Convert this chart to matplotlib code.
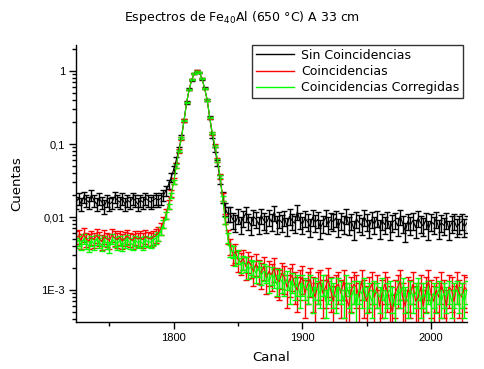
import numpy as np
import matplotlib
matplotlib.use("Agg")
import matplotlib.pyplot as plt
from matplotlib.ticker import FixedLocator, FixedFormatter, LogLocator, NullFormatter, MultipleLocator

plt.rcParams['font.family'] = ['Liberation Sans', 'DejaVu Sans']
plt.rcParams['mathtext.default'] = 'regular'

# channels (every 2nd channel)
canal = np.arange(1724, 2029, 2)

# --- Sin Coincidencias (black) ---
sin_a = [0.016, 0.018, 0.015, 0.019, 0.017, 0.016, 0.020, 0.017, 0.015, 0.018,
         0.016, 0.014, 0.017, 0.015, 0.016, 0.019, 0.017, 0.016, 0.018, 0.015,
         0.017, 0.016, 0.018, 0.017, 0.015, 0.017, 0.016, 0.018, 0.017, 0.016,
         0.017, 0.018]
sin_b = [0.017, 0.018, 0.020, 0.023, 0.028, 0.035, 0.045, 0.060, 0.085, 0.125,
         0.21, 0.37, 0.56, 0.76, 0.93, 1.0, 0.95, 0.78, 0.58, 0.40,
         0.23, 0.13, 0.085, 0.055, 0.033, 0.019, 0.013, 0.011]
sin_c = [0.0110, 0.0092, 0.0085, 0.0104, 0.0080, 0.0097, 0.0112, 0.0088, 0.0078, 0.0101,
         0.0094, 0.0079, 0.0106, 0.0090, 0.0083, 0.0099, 0.0086, 0.0115, 0.0081, 0.0093,
         0.0084, 0.0098, 0.0076, 0.0103, 0.0089, 0.0082, 0.0118, 0.0091, 0.0080, 0.0096,
         0.0087, 0.0074, 0.0100, 0.0085, 0.0093, 0.0071, 0.0083, 0.0099, 0.0079, 0.0092,
         0.0086, 0.0097, 0.0073, 0.0090, 0.0081, 0.0104, 0.0078, 0.0088, 0.0069, 0.0095,
         0.0084, 0.0077, 0.0099, 0.0087, 0.0072, 0.0093, 0.0080, 0.0096, 0.0070, 0.0089,
         0.0079, 0.0094, 0.0068, 0.0085, 0.0091, 0.0076, 0.0101, 0.0082, 0.0064, 0.0088,
         0.0078, 0.0090, 0.0072, 0.0097, 0.0083, 0.0075, 0.0092, 0.0069, 0.0087, 0.0080,
         0.0094, 0.0071, 0.0084, 0.0077, 0.0091, 0.0068, 0.0082, 0.0089, 0.0073, 0.0081,
         0.0088, 0.0074, 0.0083]
sin_coinc = np.array(sin_a + sin_b + sin_c)

# --- Coincidencias (red) ---
coi_a = [0.0052, 0.0055, 0.0048, 0.0058, 0.0050, 0.0047, 0.0053, 0.0049, 0.0056, 0.0051,
         0.0046, 0.0054, 0.0050, 0.0048, 0.0057, 0.0052, 0.0049, 0.0053, 0.0047, 0.0051,
         0.0055, 0.0050, 0.0048, 0.0053, 0.0050, 0.0052, 0.0049, 0.0054, 0.0051, 0.0050,
         0.0053, 0.0056]
coi_b = [0.0060, 0.0070, 0.0085, 0.011, 0.015, 0.021, 0.031, 0.051, 0.081, 0.12,
         0.21, 0.37, 0.56, 0.76, 0.93, 1.0, 0.95, 0.78, 0.58, 0.40,
         0.23, 0.14, 0.095, 0.060, 0.036, 0.019, 0.0095, 0.0055]
coi_c = [0.0040, 0.0031, 0.0033, 0.0026, 0.0024, 0.0027, 0.0021, 0.0025, 0.0022, 0.0018,
         0.0023, 0.0019, 0.0017, 0.0021, 0.0015, 0.0018, 0.0016, 0.0020, 0.0014, 0.0013,
         0.0017, 0.0015, 0.0011, 0.0014, 0.0016, 0.0012, 0.0010, 0.0013, 0.0015, 0.0009,
         0.0012, 0.0014, 0.0010, 0.0008, 0.0012, 0.0013, 0.0009, 0.0011, 0.0014, 0.0010,
         0.0007, 0.0011, 0.0012, 0.0009, 0.0013, 0.0008, 0.0006, 0.0010, 0.0012, 0.0011,
         0.0008, 0.0013, 0.0009, 0.0007, 0.0010, 0.0012, 0.0008, 0.0011, 0.0006, 0.0009,
         0.0012, 0.0010, 0.0007, 0.0005, 0.0009, 0.0011, 0.0013, 0.0008, 0.0006, 0.0010,
         0.0009, 0.0012, 0.0007, 0.0008, 0.0011, 0.0006, 0.0010, 0.0013, 0.0009, 0.0007,
         0.0010, 0.0008, 0.0012, 0.0009, 0.0006, 0.0011, 0.0010, 0.0007, 0.0012, 0.0009,
         0.0008, 0.0011, 0.0010]
coinc = np.array(coi_a + coi_b + coi_c)

# --- Coincidencias Corregidas (green) ---
cor_a = [0.0045, 0.0048, 0.0042, 0.0050, 0.0044, 0.0040, 0.0047, 0.0043, 0.0049, 0.0045,
         0.0041, 0.0047, 0.0044, 0.0039, 0.0050, 0.0046, 0.0043, 0.0047, 0.0041, 0.0045,
         0.0049, 0.0044, 0.0042, 0.0047, 0.0045, 0.0046, 0.0043, 0.0048, 0.0046, 0.0045,
         0.0048, 0.0051]
cor_b = [0.0055, 0.0065, 0.0080, 0.0105, 0.014, 0.020, 0.030, 0.050, 0.080, 0.12,
         0.21, 0.37, 0.56, 0.76, 0.93, 1.0, 0.95, 0.78, 0.58, 0.40,
         0.23, 0.14, 0.095, 0.060, 0.036, 0.018, 0.0090, 0.0052]
cor_c = [0.0035, 0.0034, 0.0027, 0.0029, 0.0022, 0.0024, 0.0023, 0.0019, 0.0021, 0.0020,
         0.0017, 0.0020, 0.0016, 0.0018, 0.0017, 0.0013, 0.0016, 0.0015, 0.0012, 0.0015,
         0.0013, 0.0012, 0.0014, 0.0010, 0.0013, 0.0011, 0.0012, 0.0009, 0.0012, 0.0011,
         0.0010, 0.0012, 0.0008, 0.0011, 0.0010, 0.0009, 0.0012, 0.0007, 0.0010, 0.0011,
         0.0009, 0.0008, 0.0011, 0.0010, 0.0007, 0.0012, 0.0009, 0.0008, 0.0010, 0.0006,
         0.0010, 0.0009, 0.0011, 0.0008, 0.0009, 0.0007, 0.0010, 0.0009, 0.0008, 0.0011,
         0.0007, 0.0009, 0.0010, 0.0008, 0.0006, 0.0010, 0.0009, 0.0011, 0.0008, 0.0007,
         0.0010, 0.0008, 0.0009, 0.0011, 0.0007, 0.0009, 0.0008, 0.0010, 0.0006, 0.0009,
         0.0008, 0.0010, 0.0007, 0.0009, 0.0008, 0.0010, 0.0007, 0.0009, 0.0010, 0.0008,
         0.0009, 0.0007, 0.0010]
corregidas = np.array(cor_a + cor_b + cor_c)

# counting-statistics uncertainty scale per series
err_scale_sin = 0.024
err_scale_coi = 0.016
err_scale_cor = 0.011

series_labels = ["Sin Coincidencias", "Coincidencias", "Coincidencias Corregidas"]
ytick_vals = [1e-3, 1e-2, 1e-1, 1]
ytick_labels = ["1E-3", "0,01", "0,1", "1"]
xtick_vals = [1800, 1900, 2000]

fig = plt.figure(figsize=(4.84, 3.69), dpi=100)
ax = fig.add_axes([76/484, 47/369, (467-76)/484, (322-45)/369])

for y, c, k, lab in [(sin_coinc, 'black', err_scale_sin, series_labels[0]),
                     (coinc, '#ff0000', err_scale_coi, series_labels[1]),
                     (corregidas, '#00ff00', err_scale_cor, series_labels[2])]:
    ax.errorbar(canal, y, yerr=k*np.sqrt(y), color=c, lw=0.8, elinewidth=1.0,
                capsize=2.5, capthick=1.0, label=lab)

ax.set_yscale('log')
ax.set_xlim(1724, 2028)
ax.set_ylim(10**-3.438, 10**0.356)

ax.yaxis.set_major_locator(FixedLocator(ytick_vals))
ax.yaxis.set_major_formatter(FixedFormatter(ytick_labels))
ax.yaxis.set_minor_locator(LogLocator(base=10, subs=np.arange(2, 10)))
ax.yaxis.set_minor_formatter(NullFormatter())
ax.xaxis.set_major_locator(FixedLocator(xtick_vals))
ax.xaxis.set_minor_locator(MultipleLocator(50))

for s in ['top', 'right']:
    ax.spines[s].set_visible(False)
for s in ['left', 'bottom']:
    ax.spines[s].set_linewidth(1.0)

ax.tick_params(which='major', direction='out', length=5, width=1, labelsize=8, pad=3)
ax.tick_params(which='minor', direction='out', length=3, width=1)

ax.set_xlabel("Canal", fontsize=9.5, family=['DejaVu Sans'])
ax.xaxis.set_label_coords(0.5, -29/277)
ax.set_ylabel("Cuentas", fontsize=9.5, family=['DejaVu Sans'])
ax.yaxis.set_label_coords(-53/391, 0.5)
fig.text(0.5, 0.952, "Espectros de Fe$_{40}$Al (650 °C) A 33 cm", ha='center', va='center',
         fontsize=9, family=['DejaVu Sans'])

handles = [plt.Line2D([], [], color=c, lw=1) for c in ['black', '#ff0000', '#00ff00']]
leg = ax.legend(handles, series_labels, loc='upper right', bbox_to_anchor=(463/484, 324/369),
                bbox_transform=fig.transFigure, frameon=True, fancybox=False,
                edgecolor='black', handlelength=3.0, handletextpad=0.6, borderpad=0.3,
                labelspacing=0.25, borderaxespad=0, prop={'family': 'DejaVu Sans', 'size': 9})
leg.get_frame().set_linewidth(1.0)

fig.savefig("out.png", dpi=100)
